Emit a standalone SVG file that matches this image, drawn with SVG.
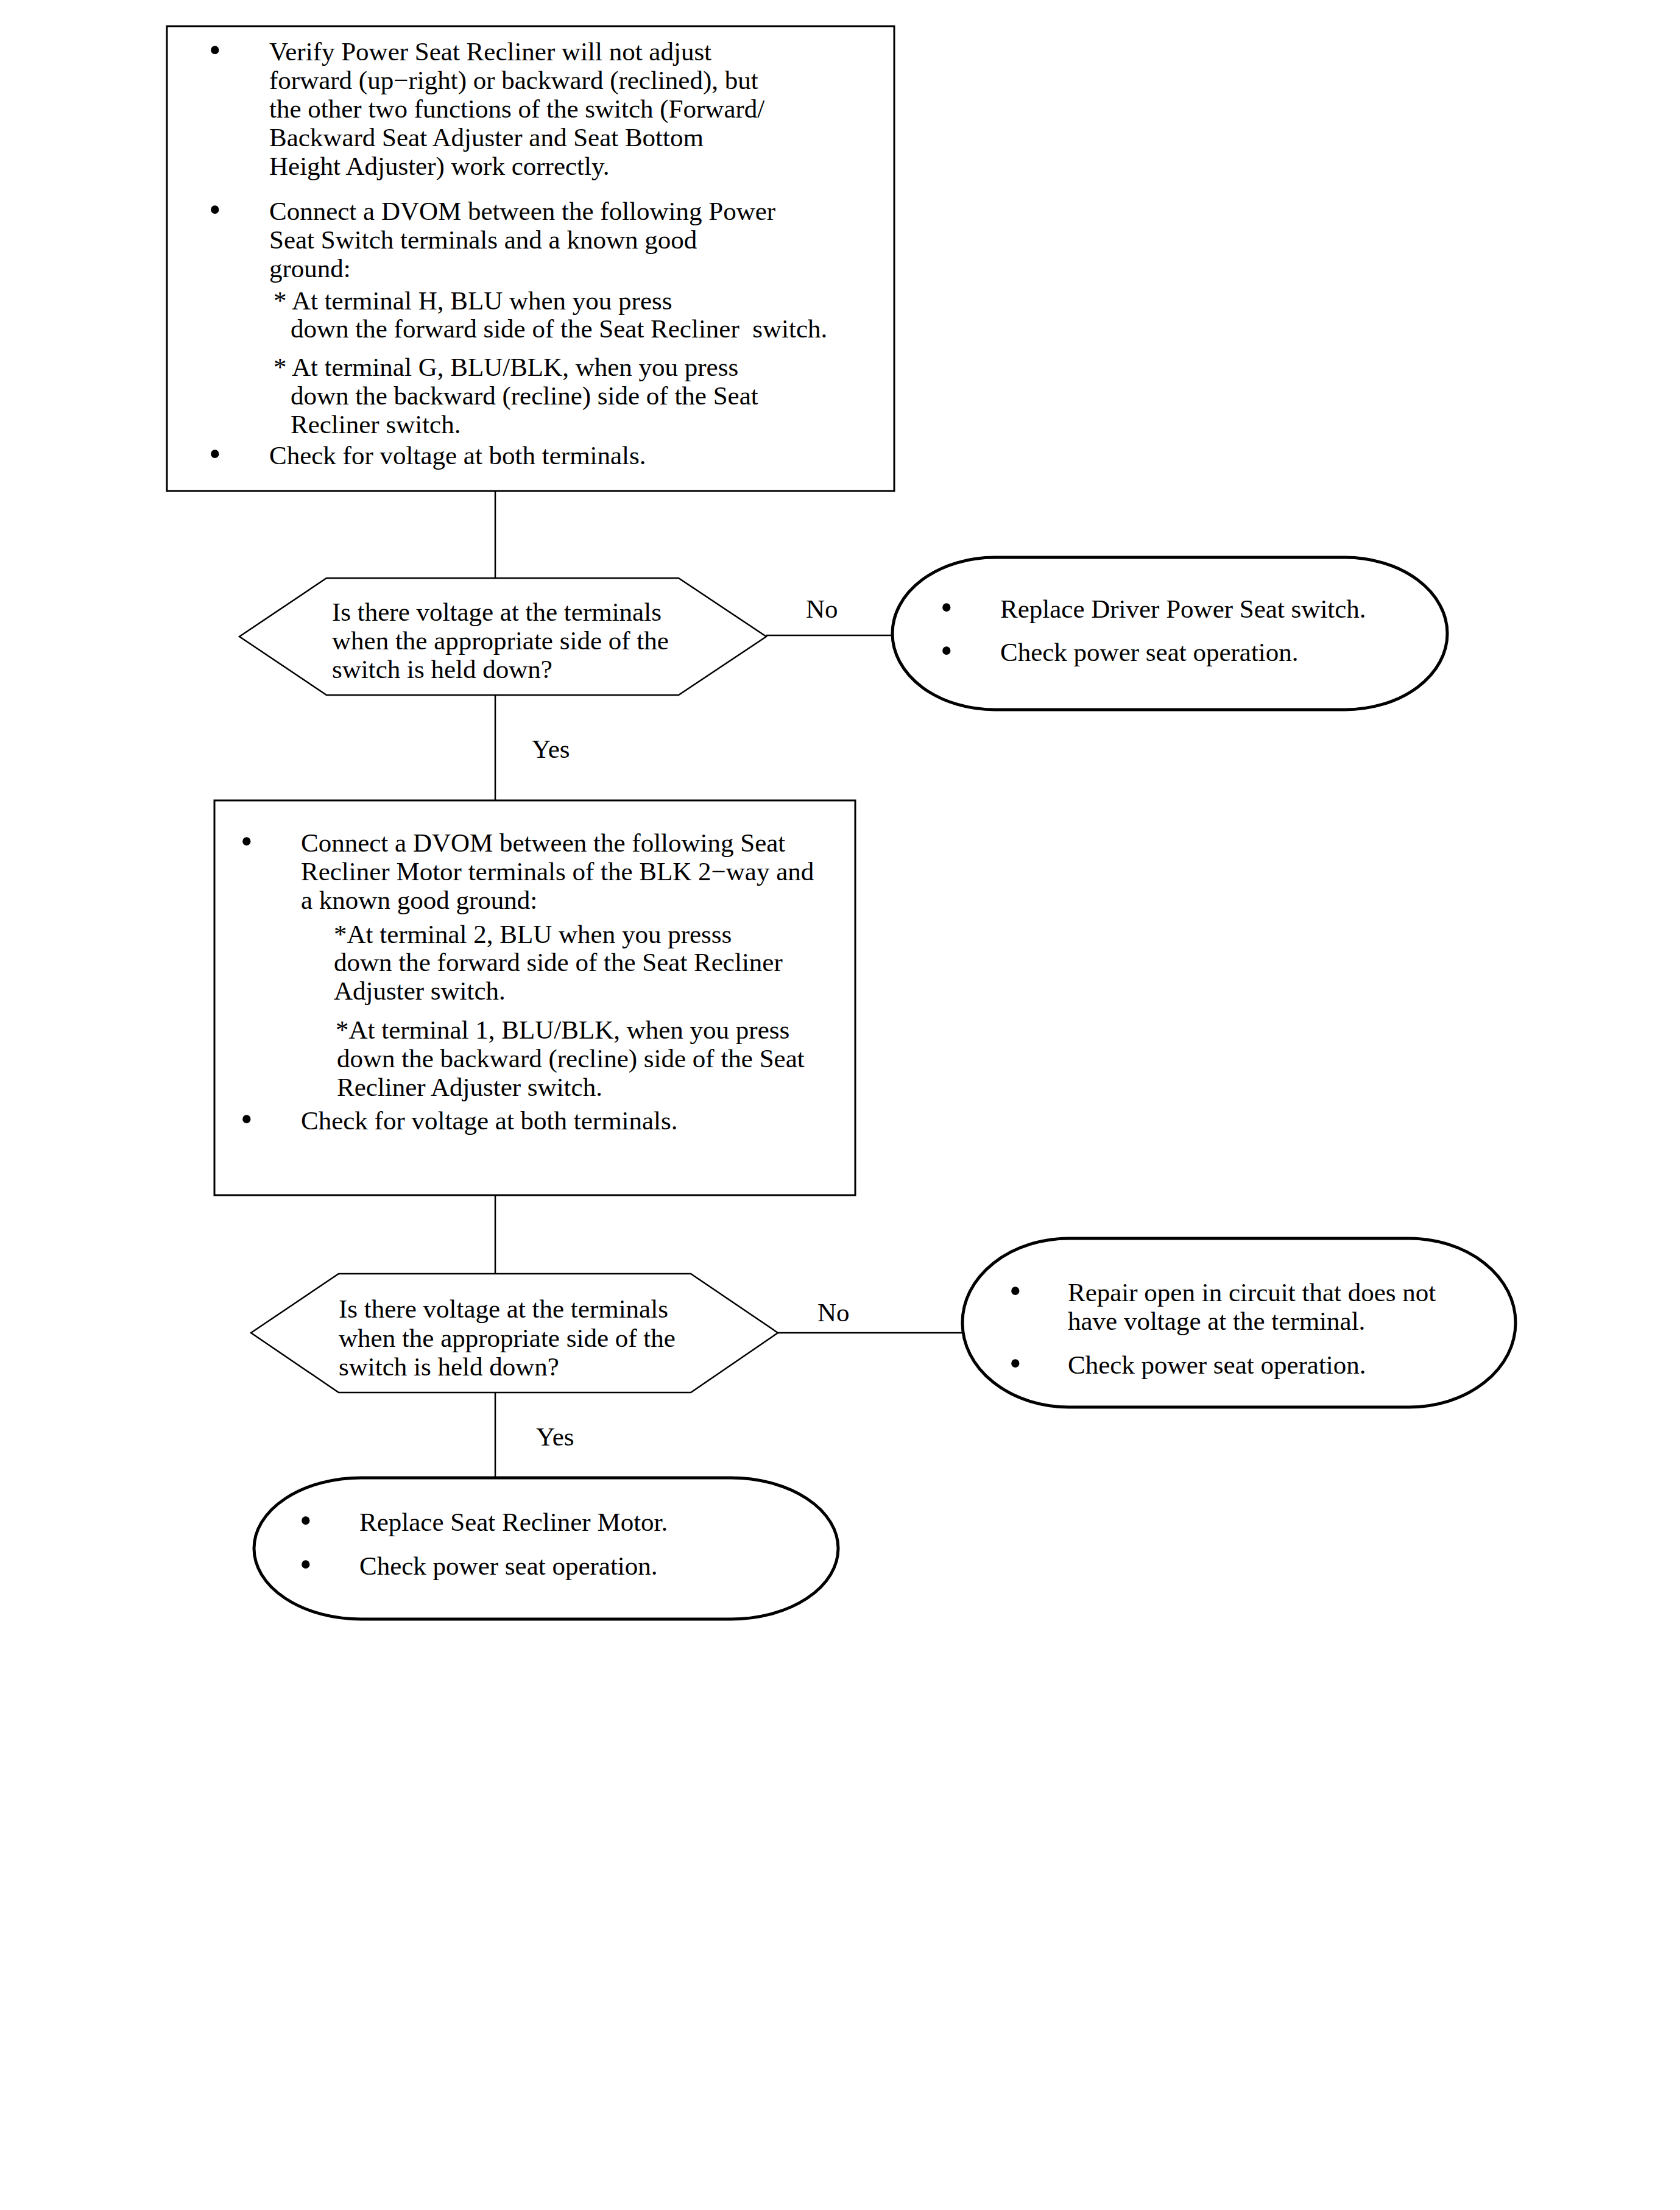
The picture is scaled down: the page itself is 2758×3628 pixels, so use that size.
<svg xmlns="http://www.w3.org/2000/svg" width="2758" height="3628" viewBox="0 0 2758 3628">
<style>
text{font-family:"Liberation Serif","Times New Roman",serif;font-size:43px;fill:#000;white-space:pre}
text.b{font-size:56px}
.box{fill:#fff;stroke:#000;stroke-width:3}
.dec{fill:#fff;stroke:#000;stroke-width:2.5}
.term{fill:#fff;stroke:#000;stroke-width:5}
.conn{stroke:#000;stroke-width:2.5;fill:none}
</style>
<rect width="2758" height="3628" fill="#fff"/>
<g id="connectors">
<line class="conn" x1="813" y1="806" x2="813" y2="949"/>
<line class="conn" x1="813" y1="1141" x2="813" y2="1314"/>
<line class="conn" x1="1258" y1="1043" x2="1465" y2="1043"/>
<line class="conn" x1="813" y1="1962" x2="813" y2="2091"/>
<line class="conn" x1="813" y1="2286" x2="813" y2="2426"/>
<line class="conn" x1="1277" y1="2188" x2="1580" y2="2188"/>
<text x="1323" y="1014">No</text>
<text x="873" y="1244">Yes</text>
<text x="1342" y="2169">No</text>
<text x="880" y="2373">Yes</text>
</g>
<g id="box1">
<rect class="box" x="274" y="43" width="1194" height="763"/>
<text class="b" x="343" y="101">•</text>
<text x="442" y="99">Verify Power Seat Recliner will not adjust</text>
<text x="442" y="146">forward (up−right) or backward (reclined), but</text>
<text x="442" y="193">the other two functions of the switch (Forward/</text>
<text x="442" y="240">Backward Seat Adjuster and Seat Bottom</text>
<text x="442" y="287">Height Adjuster) work correctly.</text>
<text class="b" x="343" y="363">•</text>
<text x="442" y="361">Connect a DVOM between the following Power</text>
<text x="442" y="408">Seat Switch terminals and a known good</text>
<text x="442" y="455">ground:</text>
<text x="449" y="508">* At terminal H, BLU when you press</text>
<text x="477" y="554">down the forward side of the Seat Recliner  switch.</text>
<text x="449" y="617">* At terminal G, BLU/BLK, when you press</text>
<text x="477" y="664">down the backward (recline) side of the Seat</text>
<text x="477" y="711">Recliner switch.</text>
<text class="b" x="343" y="764">•</text>
<text x="442" y="762">Check for voltage at both terminals.</text>
</g>
<g id="decision1">
<polygon class="dec" points="393,1045 536,949 1114,949 1258,1045 1114,1141 536,1141"/>
<text x="545" y="1019">Is there voltage at the terminals</text>
<text x="545" y="1066">when the appropriate side of the</text>
<text x="545" y="1113">switch is held down?</text>
</g>
<g id="replace-switch">
<rect class="term" x="1465" y="915" width="911" height="250" rx="168" ry="125"/>
<text class="b" x="1544" y="1016">•</text>
<text x="1642" y="1014">Replace Driver Power Seat switch.</text>
<text class="b" x="1544" y="1087">•</text>
<text x="1642" y="1085">Check power seat operation.</text>
</g>
<g id="box2">
<rect class="box" x="352" y="1314" width="1052" height="648"/>
<text class="b" x="395" y="1400">•</text>
<text x="494" y="1398">Connect a DVOM between the following Seat</text>
<text x="494" y="1445">Recliner Motor terminals of the BLK 2−way and</text>
<text x="494" y="1492">a known good ground:</text>
<text x="548" y="1548">*At terminal 2, BLU when you presss</text>
<text x="548" y="1594">down the forward side of the Seat Recliner</text>
<text x="548" y="1641">Adjuster switch.</text>
<text x="551" y="1705">*At terminal 1, BLU/BLK, when you press</text>
<text x="553" y="1752">down the backward (recline) side of the Seat</text>
<text x="553" y="1799">Recliner Adjuster switch.</text>
<text class="b" x="395" y="1856">•</text>
<text x="494" y="1854">Check for voltage at both terminals.</text>
</g>
<g id="decision2">
<polygon class="dec" points="412,2188 556,2091 1134,2091 1277,2188 1134,2286 556,2286"/>
<text x="556" y="2163">Is there voltage at the terminals</text>
<text x="556" y="2211">when the appropriate side of the</text>
<text x="556" y="2258">switch is held down?</text>
</g>
<g id="repair-open">
<rect class="term" x="1580" y="2033" width="908" height="277" rx="175" ry="138"/>
<text class="b" x="1657" y="2138">•</text>
<text x="1753" y="2136">Repair open in circuit that does not</text>
<text x="1753" y="2183">have voltage at the terminal.</text>
<text class="b" x="1657" y="2257">•</text>
<text x="1753" y="2255">Check power seat operation.</text>
</g>
<g id="replace-motor">
<rect class="term" x="417" y="2426" width="959" height="232" rx="176" ry="116"/>
<text class="b" x="492" y="2515">•</text>
<text x="590" y="2513">Replace Seat Recliner Motor.</text>
<text class="b" x="492" y="2587">•</text>
<text x="590" y="2585">Check power seat operation.</text>
</g>
</svg>
